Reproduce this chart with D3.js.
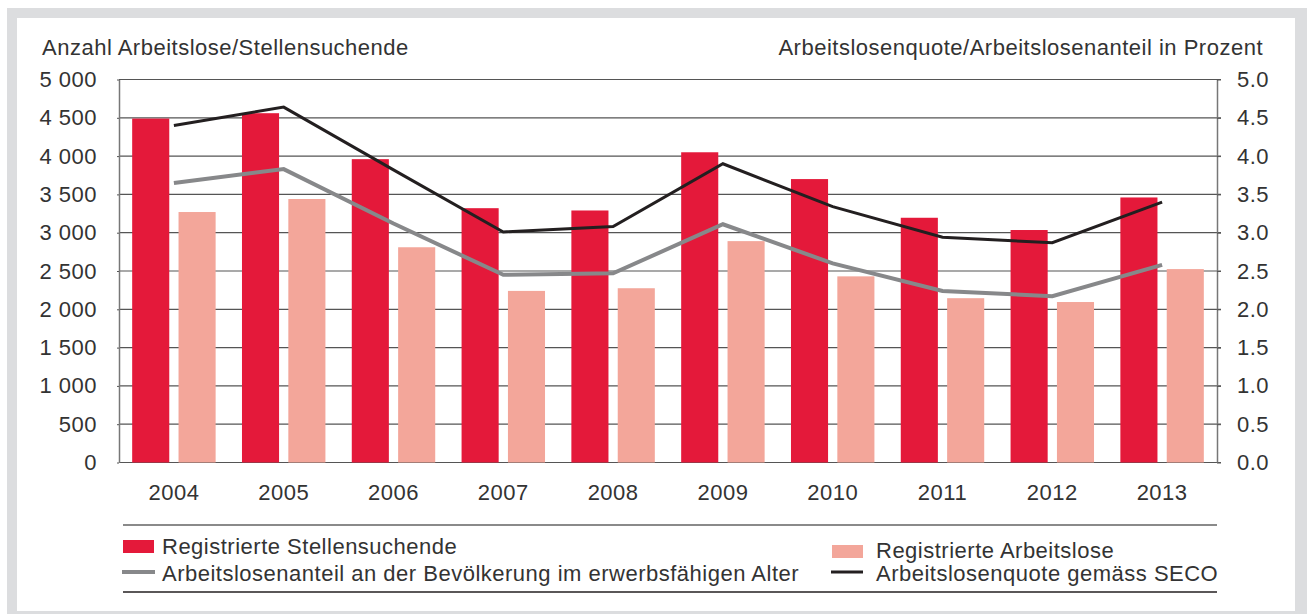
<!DOCTYPE html>
<html>
<head>
<meta charset="utf-8">
<script src="https://cdn.jsdelivr.net/npm/d3@7"></script>
<style>
  html, body { margin: 0; padding: 0; background: #fff; }
  text { font-family: "Liberation Sans", Arial, sans-serif; fill: #333; letter-spacing: 0.5px; }
</style>
</head>
<body>
<svg width="1307" height="614"></svg>
<script>
// values
var years = ["2004","2005","2006","2007","2008","2009","2010","2011","2012","2013"];
var stellensuchende = [4490, 4560, 3960, 3320, 3290, 4050, 3700, 3195, 3035, 3460];
var arbeitslose     = [3270, 3440, 2810, 2240, 2275, 2890, 2430, 2145, 2095, 2525];
var anteil = [3.65, 3.83, 3.12, 2.45, 2.47, 3.11, 2.60, 2.24, 2.17, 2.58];
var quote  = [4.40, 4.64, 3.82, 3.01, 3.08, 3.90, 3.34, 2.94, 2.87, 3.40];
var leftTicks  = [0, 500, 1000, 1500, 2000, 2500, 3000, 3500, 4000, 4500, 5000];
var rightTicks = [0, 0.5, 1, 1.5, 2, 2.5, 3, 3.5, 4, 4.5, 5];
var leftTitle  = "Anzahl Arbeitslose/Stellensuchende";
var rightTitle = "Arbeitslosenquote/Arbeitslosenanteil in Prozent";
var legendNames = ["Registrierte Stellensuchende", "Registrierte Arbeitslose",
                   "Arbeitslosenanteil an der Bevölkerung im erwerbsfähigen Alter",
                   "Arbeitslosenquote gemäss SECO"];

var red = "#e4193a", pink = "#f3a69a", grey = "#87888a", black = "#231f20";
var fs = "22px";
var margin = ({top: 79.5, right: 90, bottom: 151.5, left: 119});
var width = 1307, height = 614;

var data = years.map((y, i) => ({year: y, s: stellensuchende[i], a: arbeitslose[i], anteil: anteil[i], quote: quote[i]}));

var x = d3.scaleBand()
    .domain(years)
    .range([margin.left, width - margin.right])
    .paddingInner(0.24)
    .paddingOuter(0.12);
var x1 = d3.scaleBand()
    .domain(["s", "a"])
    .range([0, x.bandwidth()])
    .paddingInner(0.2);
var y = d3.scaleLinear()
    .domain([0, 5000])
    .range([height - margin.bottom, margin.top]);
var y2 = d3.scaleLinear()
    .domain([0, 5])
    .range([height - margin.bottom, margin.top]);

var fmt = d3.formatLocale({decimal: ".", thousands: " ", grouping: [3], currency: ["", ""]}).format(",");

var svg = d3.select("svg");

// frame
svg.append("rect").attr("x", 7).attr("y", 8).attr("width", 1300).attr("height", 606).attr("fill", "#dcdddf");
svg.append("rect").attr("x", 17).attr("y", 18).attr("width", 1278).attr("height", 593).attr("fill", "#fff");

// gridlines
svg.append("g")
  .selectAll("line")
  .data(leftTicks)
  .join("line")
    .attr("x1", margin.left)
    .attr("x2", width - margin.right + 4)
    .attr("y1", d => y(d))
    .attr("y2", d => y(d))
    .attr("stroke", "#555")
    .attr("stroke-width", 1.2);

// bars
var groups = svg.append("g")
  .selectAll("g")
  .data(data)
  .join("g")
    .attr("transform", d => `translate(${x(d.year)},0)`);
groups.append("rect")
    .attr("x", x1("s"))
    .attr("width", x1.bandwidth())
    .attr("y", d => y(d.s))
    .attr("height", d => y(0) - y(d.s))
    .attr("fill", red);
groups.append("rect")
    .attr("x", x1("a"))
    .attr("width", x1.bandwidth())
    .attr("y", d => y(d.a))
    .attr("height", d => y(0) - y(d.a))
    .attr("fill", pink);

// axes
var yAxis = g => g
    .attr("transform", `translate(${margin.left},0)`)
    .call(d3.axisLeft(y).tickValues(leftTicks).tickFormat(fmt).tickSize(2).tickPadding(20).tickSizeOuter(0))
    .call(g => g.select(".domain").attr("stroke", "#777").attr("stroke-width", 1.5))
    .call(g => g.selectAll(".tick line").attr("stroke", "#555"))
    .call(g => g.selectAll("text").attr("font-size", fs).attr("font-family", null));
var y2Axis = g => g
    .attr("transform", `translate(${width - margin.right},0)`)
    .call(d3.axisRight(y2).tickValues(rightTicks).tickFormat(d3.format(".1f")).tickSize(4).tickPadding(16).tickSizeOuter(0))
    .call(g => g.select(".domain").attr("stroke", "#777").attr("stroke-width", 1.5))
    .call(g => g.selectAll(".tick line").attr("stroke", "#555"))
    .call(g => g.selectAll("text").attr("font-size", fs).attr("font-family", null));
var xAxis = g => g
    .attr("transform", `translate(0,${height - margin.bottom})`)
    .call(d3.axisBottom(x).tickSize(0).tickSizeOuter(0))
    .call(g => g.select(".domain").remove())
    .call(g => g.selectAll("text").attr("font-size", fs).attr("font-family", null).attr("y", 37).attr("dy", 0));

svg.append("g").call(yAxis);
svg.append("g").call(y2Axis);
svg.append("g").call(xAxis);

// lines
var cx = d => x(d.year) + x.bandwidth() / 2;
svg.append("path")
    .datum(data)
    .attr("fill", "none")
    .attr("stroke", grey)
    .attr("stroke-width", 4)
    .attr("d", d3.line().x(cx).y(d => y2(d.anteil)));
svg.append("path")
    .datum(data)
    .attr("fill", "none")
    .attr("stroke", black)
    .attr("stroke-width", 3)
    .attr("d", d3.line().x(cx).y(d => y2(d.quote)));

// titles
svg.append("text").attr("x", 42).attr("y", 55).attr("font-size", fs).text(leftTitle);
svg.append("text").attr("x", 1263).attr("y", 55).attr("font-size", fs).attr("text-anchor", "end").text(rightTitle);

// legend
var lg = svg.append("g").attr("font-size", fs);
lg.append("line").attr("x1", 123).attr("x2", 1217).attr("y1", 525).attr("y2", 525).attr("stroke", "#8a8a8a").attr("stroke-width", 2);
lg.append("line").attr("x1", 123).attr("x2", 1217).attr("y1", 592).attr("y2", 592).attr("stroke", black).attr("stroke-width", 1.5);

lg.append("rect").attr("x", 123).attr("y", 540).attr("width", 31).attr("height", 13).attr("fill", red);
lg.append("text").attr("x", 162).attr("y", 554).text(legendNames[0]);
lg.append("rect").attr("x", 832).attr("y", 545).attr("width", 31).attr("height", 13).attr("fill", pink);
lg.append("text").attr("x", 876).attr("y", 558).text(legendNames[1]);
lg.append("line").attr("x1", 122).attr("x2", 155).attr("y1", 572).attr("y2", 572).attr("stroke", grey).attr("stroke-width", 4);
lg.append("text").attr("x", 162).attr("y", 581).text(legendNames[2]);
lg.append("line").attr("x1", 831).attr("x2", 863).attr("y1", 572).attr("y2", 572).attr("stroke", black).attr("stroke-width", 3);
lg.append("text").attr("x", 876).attr("y", 581).text(legendNames[3]);
</script>
</body>
</html>
